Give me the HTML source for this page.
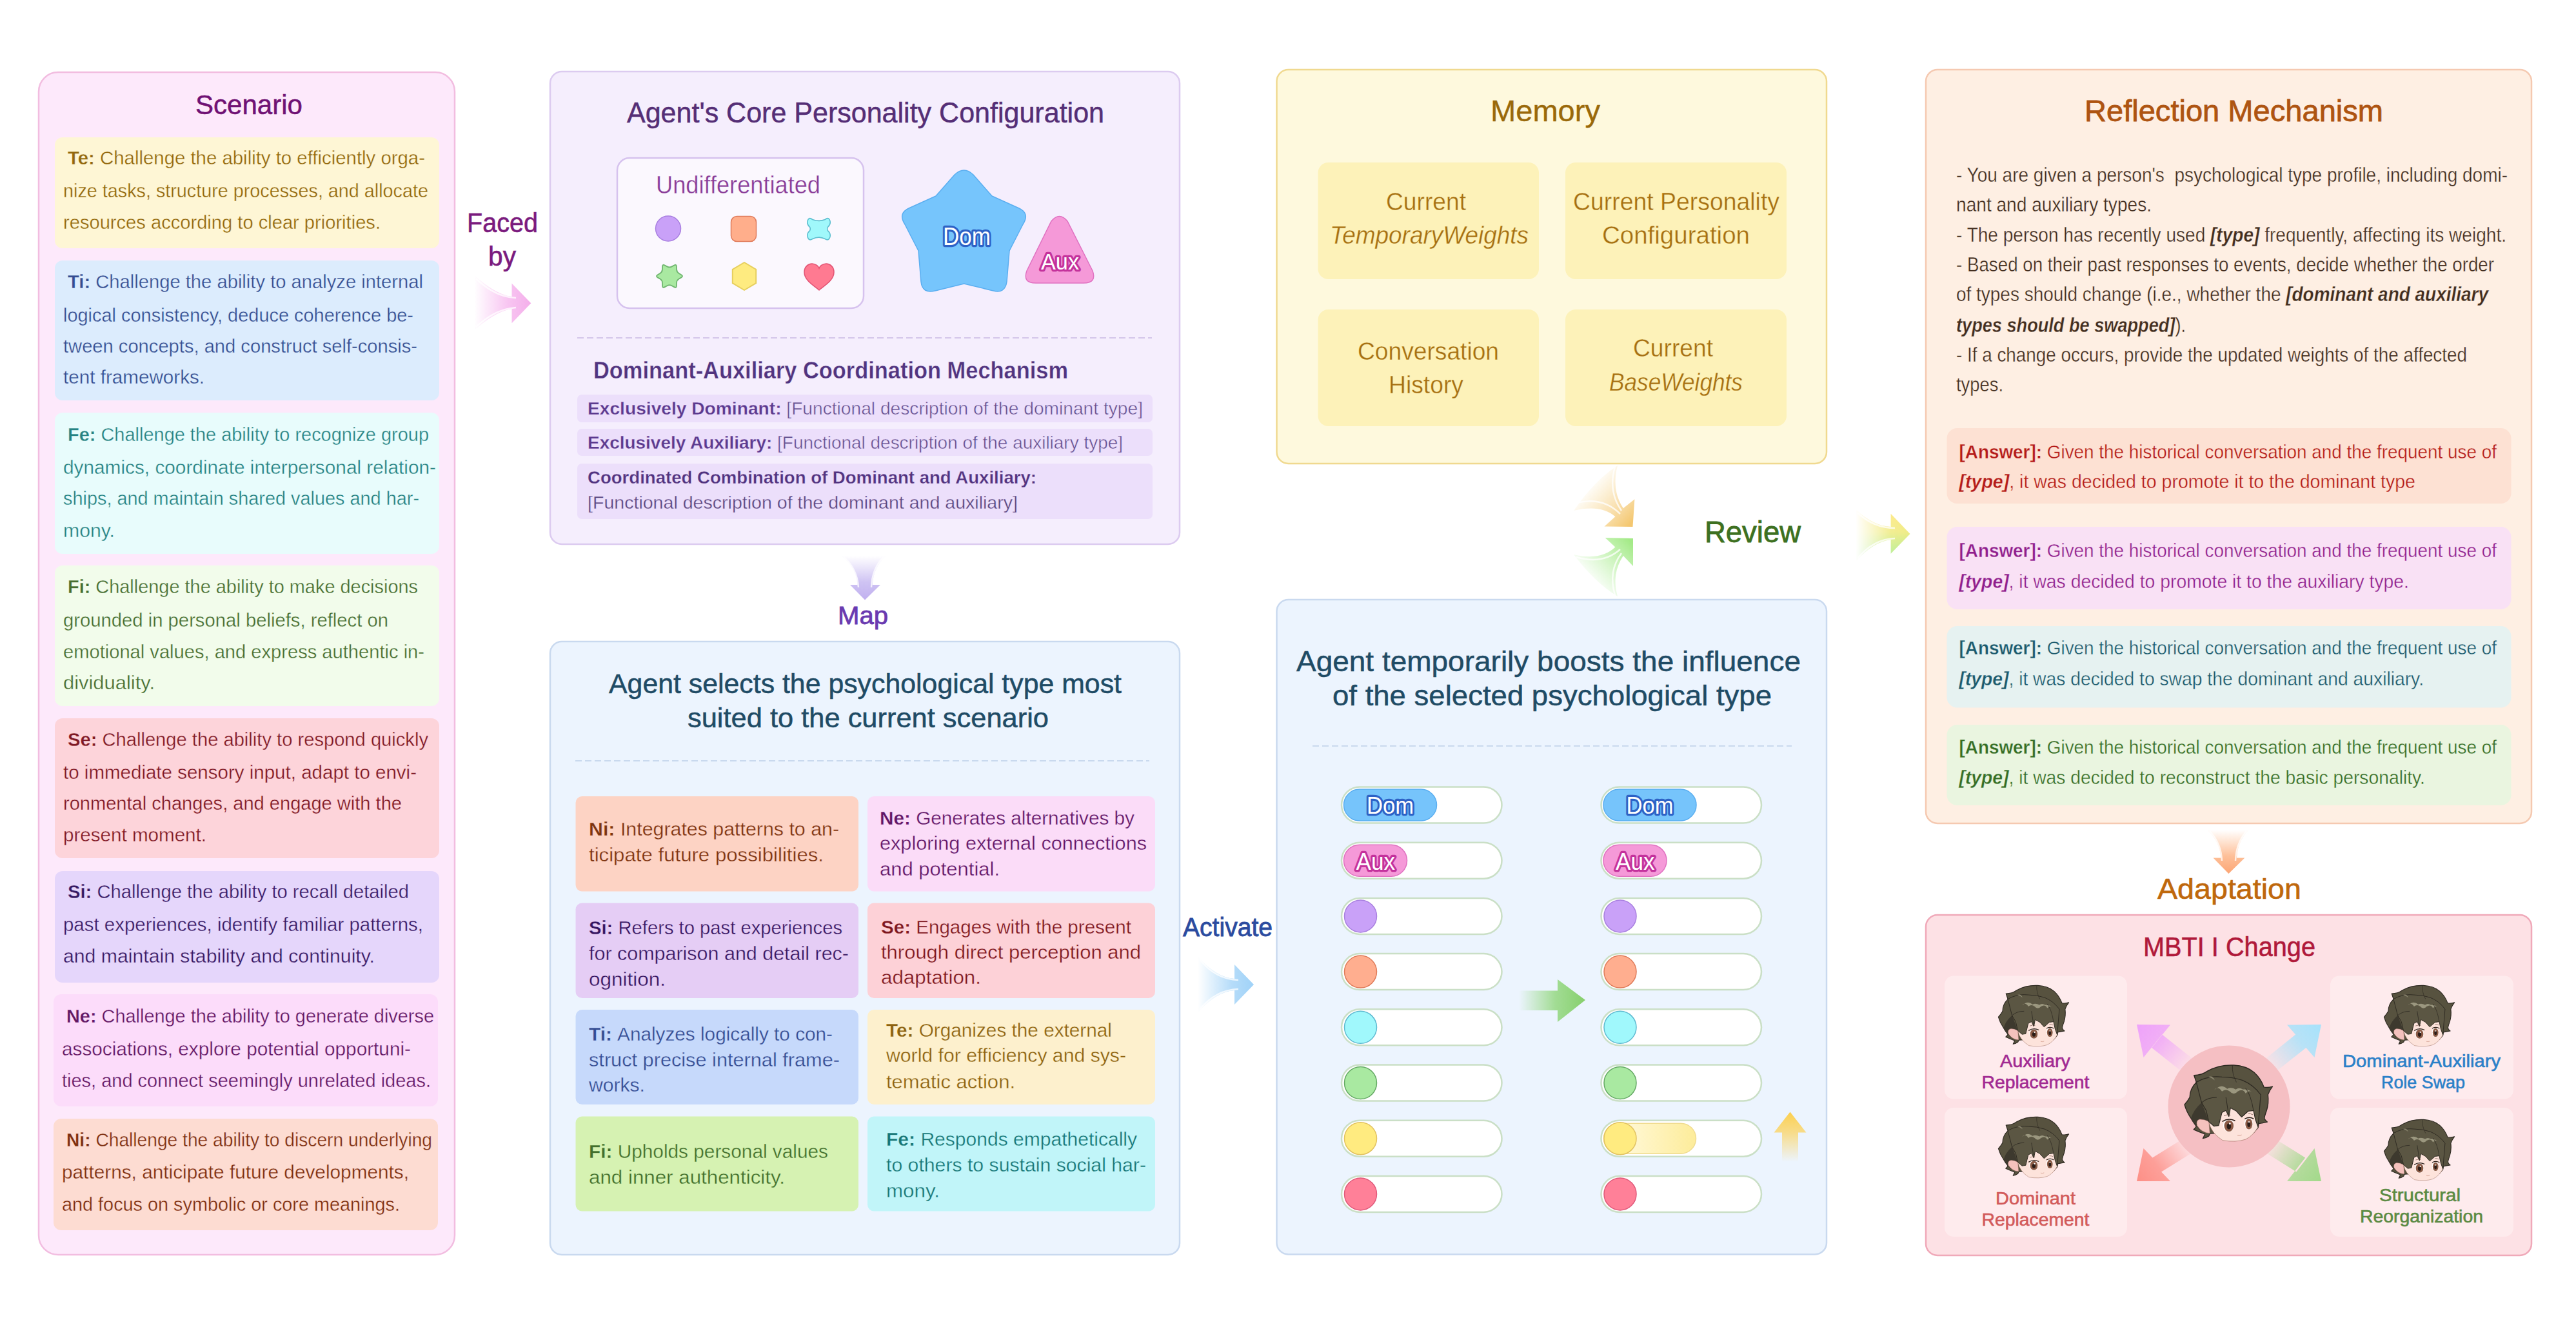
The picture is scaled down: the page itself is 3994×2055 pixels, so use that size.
<!DOCTYPE html>
<html><head><meta charset="utf-8"><title>MBTI Agent Personality Framework</title>
<style>html,body{margin:0;padding:0;background:#fff;overflow:hidden}svg{display:block}text{font-family:"Liberation Sans",sans-serif}</style>
</head><body>
<svg width="3994" height="2055" viewBox="0 0 3994 2055" font-family="'Liberation Sans', sans-serif">
<defs>
<g id="av">
<path d="M70,670 Q125,610 150,560 Q150,430 250,330 Q230,270 215,225 Q330,225 420,160 Q600,60 820,70 Q1010,80 1130,180 Q1230,270 1280,405 Q1350,415 1410,395 Q1365,450 1340,520 Q1355,650 1320,760 Q1290,840 1285,880 Q1300,915 1330,935 Q1260,950 1200,960 L1190,1020 L1120,1100 L600,1100 L460,1110 L440,1150 Q400,1180 350,1185 Q370,1150 380,1120 Q300,1090 210,1050 Q240,1020 250,1000 Q195,930 170,880 Q100,780 70,670 Z" fill="#57523f" stroke="#2e2a22" stroke-width="14" stroke-linejoin="round"/>
<path d="M170,880 Q200,760 330,640 L440,930 L300,1060 Z" fill="#3d392e"/>
<path d="M440,930 Q470,1100 650,1215 Q850,1250 1000,1200 Q1120,1140 1190,1010 L1150,850 L1110,700 L600,700 Z" fill="#fde3db" stroke="#9a6a5a" stroke-width="6"/>
<path d="M455,1105 Q330,1100 262,990 Q240,910 300,895 Q370,890 440,930 Z" fill="#f4c1bd" stroke="#b07a70" stroke-width="5"/>
<path d="M250,330 L330,290 Q480,230 640,250 Q800,250 950,300 Q1120,370 1230,520 L1190,1010 L1150,900 L1120,760 L1040,770 L940,860 L860,770 L770,720 L745,850 L700,760 L640,790 L590,990 L520,1000 L440,930 L400,760 L330,640 Z" fill="#5b5643" stroke="#2e2a22" stroke-width="12" stroke-linejoin="round"/>
<path d="M520,450 Q580,380 640,470 Q700,420 760,470 Q820,540 880,470 Q960,420 1000,500 Q1050,450 1090,470 Q1000,430 960,440 Q900,400 850,440 Q780,400 720,430 Q640,360 560,420 Z" fill="#9b977f"/>
<path d="M430,250 Q500,220 530,300 Q480,260 430,250 Z" fill="#8a8570"/>
<path d="M330,640 Q420,560 560,560" stroke="#2e2a22" stroke-width="10" fill="none"/>
<path d="M700,560 Q720,680 745,850" stroke="#2e2a22" stroke-width="10" fill="none"/>
<path d="M1000,420 Q1080,520 1120,760" stroke="#2e2a22" stroke-width="9" fill="none"/>
<path d="M800,70 Q790,200 860,330" stroke="#2e2a22" stroke-width="8" fill="none"/>
<ellipse cx="742" cy="988" rx="84" ry="98" fill="#ffffff"/>
<ellipse cx="746" cy="994" rx="72" ry="88" fill="#8b5b46"/>
<ellipse cx="746" cy="1002" rx="32" ry="44" fill="#2a1c16"/>
<circle cx="760" cy="960" r="14" fill="#ffffff"/>
<path d="M650,925 Q740,870 835,915" stroke="#2a1c16" stroke-width="16" fill="none" stroke-linecap="round"/>
<ellipse cx="1046" cy="958" rx="64" ry="92" fill="#ffffff"/>
<ellipse cx="1050" cy="966" rx="54" ry="82" fill="#8b5b46"/>
<ellipse cx="1050" cy="972" rx="24" ry="40" fill="#2a1c16"/>
<circle cx="1052" cy="935" r="11" fill="#ffffff"/>
<path d="M990,885 Q1060,850 1120,885" stroke="#2a1c16" stroke-width="14" fill="none" stroke-linecap="round"/>
<path d="M670,840 Q720,815 770,830" stroke="#5a3a30" stroke-width="7" fill="none"/>
<path d="M1040,810 Q1080,805 1110,825" stroke="#5a3a30" stroke-width="7" fill="none"/>
<path d="M875,1135 Q905,1148 940,1132" stroke="#c0806f" stroke-width="7" fill="none"/>
</g>
<linearGradient id="boost" x1="0" x2="1" y1="0" y2="0"><stop offset="0" stop-color="#fffbe8"/><stop offset="0.35" stop-color="#fff6cc"/><stop offset="1" stop-color="#fdec9a"/></linearGradient><linearGradient id="garr" x1="0" x2="1" y1="0" y2="0"><stop offset="0" stop-color="#8fd679" stop-opacity="0"/><stop offset="0.55" stop-color="#8fd679" stop-opacity="0.8"/><stop offset="1" stop-color="#86cf6c"/></linearGradient><linearGradient id="yarr" x1="0" x2="0" y1="1" y2="0"><stop offset="0" stop-color="#fbd35f" stop-opacity="0"/><stop offset="0.6" stop-color="#fbd35f" stop-opacity="0.75"/><stop offset="1" stop-color="#fccf4f"/></linearGradient><linearGradient id="pinkarr" gradientUnits="userSpaceOnUse" x1="735" y1="0" x2="823" y2="0"><stop offset="0" stop-color="#f6b6ee" stop-opacity="0"/><stop offset="0.6" stop-color="#f6b6ee" stop-opacity="0.8"/><stop offset="1" stop-color="#f4aeea"/></linearGradient><linearGradient id="maparr" gradientUnits="userSpaceOnUse" x1="0" y1="862" x2="0" y2="930"><stop offset="0" stop-color="#c9bbf2" stop-opacity="0"/><stop offset="0.6" stop-color="#c6b8f1" stop-opacity="0.85"/><stop offset="1" stop-color="#c0b0ef"/></linearGradient><linearGradient id="actarr" gradientUnits="userSpaceOnUse" x1="1857" y1="0" x2="1944" y2="0"><stop offset="0" stop-color="#a9d6f8" stop-opacity="0"/><stop offset="0.6" stop-color="#a9d6f8" stop-opacity="0.85"/><stop offset="1" stop-color="#9fd2f8"/></linearGradient><linearGradient id="yrev" gradientUnits="userSpaceOnUse" x1="2462" y1="752" x2="2528" y2="812"><stop offset="0" stop-color="#f8d890" stop-opacity="0"/><stop offset="0.5" stop-color="#f6d28a" stop-opacity="0.55"/><stop offset="1" stop-color="#f4c770"/></linearGradient><linearGradient id="grev" gradientUnits="userSpaceOnUse" x1="2462" y1="900" x2="2528" y2="840"><stop offset="0" stop-color="#b5f0a0" stop-opacity="0"/><stop offset="0.5" stop-color="#b0ee98" stop-opacity="0.55"/><stop offset="1" stop-color="#a4ea88"/></linearGradient><linearGradient id="rrev" gradientUnits="userSpaceOnUse" x1="0" y1="797" x2="0" y2="859"><stop offset="0" stop-color="#fde880"/><stop offset="0.45" stop-color="#f0ec88"/><stop offset="1" stop-color="#b8ee90"/></linearGradient><linearGradient id="rrevfade" gradientUnits="userSpaceOnUse" x1="2877" y1="0" x2="2960" y2="0"><stop offset="0" stop-color="#fff" stop-opacity="0"/><stop offset="0.65" stop-color="#fff" stop-opacity="0.9"/><stop offset="1" stop-color="#fff" stop-opacity="1"/></linearGradient><mask id="rrevmask" maskUnits="userSpaceOnUse" x="2860" y="770" width="120" height="120"><rect x="2860" y="770" width="120" height="120" fill="url(#rrevfade)"/></mask><linearGradient id="adarr" gradientUnits="userSpaceOnUse" x1="0" y1="1287" x2="0" y2="1355"><stop offset="0" stop-color="#fdb88a" stop-opacity="0"/><stop offset="0.6" stop-color="#fdb486" stop-opacity="0.85"/><stop offset="1" stop-color="#fca574"/></linearGradient><linearGradient id="dtl" gradientUnits="userSpaceOnUse" x1="3395" y1="1655" x2="3313" y2="1589"><stop offset="0" stop-color="#eea2fa" stop-opacity="0"/><stop offset="0.6" stop-color="#eea2fa" stop-opacity="0.8"/><stop offset="1" stop-color="#eea2fa"/></linearGradient><linearGradient id="dtr" gradientUnits="userSpaceOnUse" x1="3517" y1="1655" x2="3599" y2="1589"><stop offset="0" stop-color="#a6e2fb" stop-opacity="0"/><stop offset="0.6" stop-color="#a6e2fb" stop-opacity="0.8"/><stop offset="1" stop-color="#a6e2fb"/></linearGradient><linearGradient id="dbl" gradientUnits="userSpaceOnUse" x1="3395" y1="1775" x2="3313" y2="1832"><stop offset="0" stop-color="#fd8f86" stop-opacity="0"/><stop offset="0.6" stop-color="#fd8f86" stop-opacity="0.8"/><stop offset="1" stop-color="#fd8f86"/></linearGradient><linearGradient id="dbr" gradientUnits="userSpaceOnUse" x1="3517" y1="1775" x2="3599" y2="1832"><stop offset="0" stop-color="#a2d98a" stop-opacity="0"/><stop offset="0.6" stop-color="#a2d98a" stop-opacity="0.8"/><stop offset="1" stop-color="#a2d98a"/></linearGradient>
</defs>
<rect width="3994" height="2055" fill="#ffffff"/>
<rect x="60" y="112" width="645" height="1834" rx="30" fill="#fde9fb" stroke="#f2bde0" stroke-width="2.5" />
<rect x="853" y="111" width="976" height="733" rx="18" fill="#f5eefd" stroke="#dccbf0" stroke-width="2.5" />
<rect x="853" y="995" width="976" height="951" rx="18" fill="#ecf4fe" stroke="#c9d9ef" stroke-width="2.5" />
<rect x="1979.5" y="108" width="852.5" height="611" rx="18" fill="#fef9dd" stroke="#f0d98f" stroke-width="2.5" />
<rect x="1979.5" y="930" width="852.5" height="1015.5" rx="18" fill="#ecf4fe" stroke="#c9d9ef" stroke-width="2.5" />
<rect x="2986" y="108" width="939" height="1169" rx="18" fill="#feefe3" stroke="#f5c9b1" stroke-width="2.5" />
<rect x="2986" y="1419" width="939" height="528" rx="18" fill="#fde1e5" stroke="#f0a9b9" stroke-width="2.5" />
<text x="303" y="177" font-size="42.5" fill="#701174" font-weight="normal" font-style="normal" stroke="#701174" stroke-width="0.5" textLength="166" lengthAdjust="spacingAndGlyphs"  xml:space="preserve"><tspan>Scenario</tspan></text>
<rect x="85" y="213" width="596" height="172" rx="12" fill="#fef6d5" />
<text x="105" y="255" font-size="30" fill="#92670d" font-weight="normal" font-style="normal" stroke="#fef6d5" stroke-width="0.35" textLength="554" lengthAdjust="spacingAndGlyphs"  xml:space="preserve"><tspan font-weight="bold" stroke-width="0.3">Te: </tspan><tspan>Challenge the ability to efficiently orga-</tspan></text>
<text x="98" y="306" font-size="30" fill="#92670d" font-weight="normal" font-style="normal" stroke="#fef6d5" stroke-width="0.35" textLength="566" lengthAdjust="spacingAndGlyphs"  xml:space="preserve"><tspan>nize tasks, structure processes, and allocate</tspan></text>
<text x="98" y="355" font-size="30" fill="#92670d" font-weight="normal" font-style="normal" stroke="#fef6d5" stroke-width="0.35" textLength="492" lengthAdjust="spacingAndGlyphs"  xml:space="preserve"><tspan>resources according to clear priorities.</tspan></text>
<rect x="85" y="404" width="596" height="217" rx="12" fill="#dcecfd" />
<text x="105" y="447" font-size="30" fill="#364c90" font-weight="normal" font-style="normal" stroke="#dcecfd" stroke-width="0.35" textLength="551" lengthAdjust="spacingAndGlyphs"  xml:space="preserve"><tspan font-weight="bold" stroke-width="0.3">Ti: </tspan><tspan>Challenge the ability to analyze internal</tspan></text>
<text x="98" y="499" font-size="30" fill="#364c90" font-weight="normal" font-style="normal" stroke="#dcecfd" stroke-width="0.35" textLength="543" lengthAdjust="spacingAndGlyphs"  xml:space="preserve"><tspan>logical consistency, deduce coherence be-</tspan></text>
<text x="98" y="547" font-size="30" fill="#364c90" font-weight="normal" font-style="normal" stroke="#dcecfd" stroke-width="0.35" textLength="549" lengthAdjust="spacingAndGlyphs"  xml:space="preserve"><tspan>tween concepts, and construct self-consis-</tspan></text>
<text x="98" y="595" font-size="30" fill="#364c90" font-weight="normal" font-style="normal" stroke="#dcecfd" stroke-width="0.35" textLength="219" lengthAdjust="spacingAndGlyphs"  xml:space="preserve"><tspan>tent frameworks.</tspan></text>
<rect x="85" y="640" width="596" height="219" rx="12" fill="#e8fcfc" />
<text x="105" y="684" font-size="30" fill="#258282" font-weight="normal" font-style="normal" stroke="#e8fcfc" stroke-width="0.35" textLength="560" lengthAdjust="spacingAndGlyphs"  xml:space="preserve"><tspan font-weight="bold" stroke-width="0.3">Fe: </tspan><tspan>Challenge the ability to recognize group</tspan></text>
<text x="98" y="735" font-size="30" fill="#258282" font-weight="normal" font-style="normal" stroke="#e8fcfc" stroke-width="0.35" textLength="578" lengthAdjust="spacingAndGlyphs"  xml:space="preserve"><tspan>dynamics, coordinate interpersonal relation-</tspan></text>
<text x="98" y="783" font-size="30" fill="#258282" font-weight="normal" font-style="normal" stroke="#e8fcfc" stroke-width="0.35" textLength="552" lengthAdjust="spacingAndGlyphs"  xml:space="preserve"><tspan>ships, and maintain shared values and har-</tspan></text>
<text x="98" y="833" font-size="30" fill="#258282" font-weight="normal" font-style="normal" stroke="#e8fcfc" stroke-width="0.35" textLength="80" lengthAdjust="spacingAndGlyphs"  xml:space="preserve"><tspan>mony.</tspan></text>
<rect x="85" y="877" width="596" height="218" rx="12" fill="#f2fceb" />
<text x="105" y="920" font-size="30" fill="#456d2f" font-weight="normal" font-style="normal" stroke="#f2fceb" stroke-width="0.35" textLength="543" lengthAdjust="spacingAndGlyphs"  xml:space="preserve"><tspan font-weight="bold" stroke-width="0.3">Fi: </tspan><tspan>Challenge the ability to make decisions</tspan></text>
<text x="98" y="972" font-size="30" fill="#456d2f" font-weight="normal" font-style="normal" stroke="#f2fceb" stroke-width="0.35" textLength="504" lengthAdjust="spacingAndGlyphs"  xml:space="preserve"><tspan>grounded in personal beliefs, reflect on</tspan></text>
<text x="98" y="1021" font-size="30" fill="#456d2f" font-weight="normal" font-style="normal" stroke="#f2fceb" stroke-width="0.35" textLength="560" lengthAdjust="spacingAndGlyphs"  xml:space="preserve"><tspan>emotional values, and express authentic in-</tspan></text>
<text x="98" y="1069" font-size="30" fill="#456d2f" font-weight="normal" font-style="normal" stroke="#f2fceb" stroke-width="0.35" textLength="142" lengthAdjust="spacingAndGlyphs"  xml:space="preserve"><tspan>dividuality.</tspan></text>
<rect x="85" y="1114" width="596" height="217" rx="12" fill="#fdd4da" />
<text x="105" y="1157" font-size="30" fill="#7e1925" font-weight="normal" font-style="normal" stroke="#fdd4da" stroke-width="0.35" textLength="559" lengthAdjust="spacingAndGlyphs"  xml:space="preserve"><tspan font-weight="bold" stroke-width="0.3">Se: </tspan><tspan>Challenge the ability to respond quickly</tspan></text>
<text x="98" y="1208" font-size="30" fill="#7e1925" font-weight="normal" font-style="normal" stroke="#fdd4da" stroke-width="0.35" textLength="548" lengthAdjust="spacingAndGlyphs"  xml:space="preserve"><tspan>to immediate sensory input, adapt to envi-</tspan></text>
<text x="98" y="1256" font-size="30" fill="#7e1925" font-weight="normal" font-style="normal" stroke="#fdd4da" stroke-width="0.35" textLength="525" lengthAdjust="spacingAndGlyphs"  xml:space="preserve"><tspan>ronmental changes, and engage with the</tspan></text>
<text x="98" y="1305" font-size="30" fill="#7e1925" font-weight="normal" font-style="normal" stroke="#fdd4da" stroke-width="0.35" textLength="222" lengthAdjust="spacingAndGlyphs"  xml:space="preserve"><tspan>present moment.</tspan></text>
<rect x="85" y="1351" width="596" height="173" rx="12" fill="#e5d6fb" />
<text x="105" y="1393" font-size="30" fill="#361b63" font-weight="normal" font-style="normal" stroke="#e5d6fb" stroke-width="0.35" textLength="529" lengthAdjust="spacingAndGlyphs"  xml:space="preserve"><tspan font-weight="bold" stroke-width="0.3">Si: </tspan><tspan>Challenge the ability to recall detailed</tspan></text>
<text x="98" y="1444" font-size="30" fill="#361b63" font-weight="normal" font-style="normal" stroke="#e5d6fb" stroke-width="0.35" textLength="558" lengthAdjust="spacingAndGlyphs"  xml:space="preserve"><tspan>past experiences, identify familiar patterns,</tspan></text>
<text x="98" y="1493" font-size="30" fill="#361b63" font-weight="normal" font-style="normal" stroke="#e5d6fb" stroke-width="0.35" textLength="483" lengthAdjust="spacingAndGlyphs"  xml:space="preserve"><tspan>and maintain stability and continuity.</tspan></text>
<rect x="83" y="1542" width="596" height="174" rx="12" fill="#fcdcfa" />
<text x="103" y="1586" font-size="30" fill="#611863" font-weight="normal" font-style="normal" stroke="#fcdcfa" stroke-width="0.35" textLength="570" lengthAdjust="spacingAndGlyphs"  xml:space="preserve"><tspan font-weight="bold" stroke-width="0.3">Ne: </tspan><tspan>Challenge the ability to generate diverse</tspan></text>
<text x="96" y="1637" font-size="30" fill="#611863" font-weight="normal" font-style="normal" stroke="#fcdcfa" stroke-width="0.35" textLength="541" lengthAdjust="spacingAndGlyphs"  xml:space="preserve"><tspan>associations, explore potential opportuni-</tspan></text>
<text x="96" y="1686" font-size="30" fill="#611863" font-weight="normal" font-style="normal" stroke="#fcdcfa" stroke-width="0.35" textLength="572" lengthAdjust="spacingAndGlyphs"  xml:space="preserve"><tspan>ties, and connect seemingly unrelated ideas.</tspan></text>
<rect x="83" y="1735" width="596" height="173" rx="12" fill="#fddcd2" />
<text x="103" y="1778" font-size="30" fill="#7c2f10" font-weight="normal" font-style="normal" stroke="#fddcd2" stroke-width="0.35" textLength="567" lengthAdjust="spacingAndGlyphs"  xml:space="preserve"><tspan font-weight="bold" stroke-width="0.3">Ni: </tspan><tspan>Challenge the ability to discern underlying</tspan></text>
<text x="96" y="1828" font-size="30" fill="#7c2f10" font-weight="normal" font-style="normal" stroke="#fddcd2" stroke-width="0.35" textLength="538" lengthAdjust="spacingAndGlyphs"  xml:space="preserve"><tspan>patterns, anticipate future developments,</tspan></text>
<text x="96" y="1878" font-size="30" fill="#7c2f10" font-weight="normal" font-style="normal" stroke="#fddcd2" stroke-width="0.35" textLength="524" lengthAdjust="spacingAndGlyphs"  xml:space="preserve"><tspan>and focus on symbolic or core meanings.</tspan></text>
<text x="972" y="189.5" font-size="43.5" fill="#552e76" font-weight="normal" font-style="normal" stroke="#552e76" stroke-width="0.5" textLength="740" lengthAdjust="spacingAndGlyphs"  xml:space="preserve"><tspan>Agent's Core Personality Configuration</tspan></text>
<rect x="957" y="245" width="382" height="233" rx="19" fill="#fbf8fe" stroke="#d6c2ee" stroke-width="2.5" />
<text x="1017" y="300" font-size="38" fill="#883b97" font-weight="normal" font-style="normal" stroke="#fbf8fe" stroke-width="0.35" textLength="255" lengthAdjust="spacingAndGlyphs"  xml:space="preserve"><tspan>Undifferentiated</tspan></text>
<circle cx="1036" cy="354.5" r="19.5" fill="#c9a1f8" stroke="#a87fe0" stroke-width="1.5"/>
<rect x="1133.5" y="335.5" width="39" height="39" rx="9" fill="#ffae8b" stroke="#e07c5c" stroke-width="1.5"/>
<path transform="translate(1269.5,355) scale(0.88,0.97)" d="M-11,-15 Q0,-11 11,-15 Q18,-20 20,-12 Q21,-7 16,-3 Q14,0 16,3 Q21,7 20,12 Q18,20 11,16 Q0,11 -11,16 Q-18,20 -20,12 Q-21,7 -16,3 Q-14,0 -16,-3 Q-21,-7 -20,-12 Q-18,-20 -11,-15 Z" fill="#a0f8fb" stroke="#5fbfd0" stroke-width="1.8"/>
<path d="M1056.63,430.12 L1052.33,432.85 Q1049.26,434.80 1049.11,438.44 L1048.89,443.53 Q1048.75,446.92 1045.74,445.35 L1041.22,442.99 Q1038.00,441.30 1034.78,442.99 L1030.26,445.35 Q1027.25,446.92 1027.11,443.53 L1026.89,438.44 Q1026.74,434.80 1023.67,432.85 L1019.37,430.12 Q1016.50,428.30 1019.37,426.48 L1023.67,423.75 Q1026.74,421.80 1026.89,418.16 L1027.11,413.07 Q1027.25,409.68 1030.26,411.25 L1034.78,413.61 Q1038.00,415.30 1041.22,413.61 L1045.74,411.25 Q1048.75,409.68 1048.89,413.07 L1049.11,418.16 Q1049.26,421.80 1052.33,423.75 L1056.63,426.48 Q1059.50,428.30 1056.63,430.12 Z" fill="#a9e9a1" stroke="#6fb56f" stroke-width="1.8"/>
<polygon points="1154.0,407.0 1172.2,417.8 1172.2,439.2 1154.0,450.0 1135.8,439.2 1135.8,417.8" fill="#feeb80" stroke="#e6cf5e" stroke-width="2" stroke-linejoin="round"/>
<path transform="translate(1270,430)" d="M0,20 C-8,13 -23,5 -23,-8 C-23,-17 -16,-21 -11,-21 C-5,-21 -1,-17 0,-14 C1,-17 5,-21 11,-21 C16,-21 23,-17 23,-8 C23,5 8,13 0,20 Z" fill="#ff7a91" stroke="#e25373" stroke-width="1.5"/>
<path d="M1480,271 Q1494.7,257 1509,271 L1538,304 L1580,323 Q1597,331 1586,348 L1565,389 L1561,437 Q1558,456 1540,451 L1494.7,440 L1450,451 Q1430,456 1428,437 L1424,389 L1403,348 Q1392,331 1409,323 L1451,304 Z" fill="#76c5fc" stroke="#5aaef0" stroke-width="1.5" stroke-linejoin="round"/>
<text x="1462" y="380" font-size="39" fill="#ffffff" font-weight="normal" font-style="normal" textLength="74" lengthAdjust="spacingAndGlyphs" stroke="#2d62c6" stroke-width="6.5" paint-order="stroke" stroke-linejoin="round" xml:space="preserve"><tspan>Dom</tspan></text>
<path d="M1630,343 Q1642.6,328 1655,343 L1694,420 Q1701,439 1680,439 L1606,439 Q1585,439 1592,420 Z" fill="#f599d8" stroke="#e071c1" stroke-width="1.5"/>
<text x="1614" y="418" font-size="35" fill="#ffffff" font-weight="normal" font-style="normal" textLength="59" lengthAdjust="spacingAndGlyphs" stroke="#c4329c" stroke-width="6.5" paint-order="stroke" stroke-linejoin="round" xml:space="preserve"><tspan>Aux</tspan></text>
<line x1="895" y1="524" x2="1786" y2="524" stroke="#d4c6ea" stroke-width="2" stroke-dasharray="10 5"/>
<text x="920" y="587" font-size="36" fill="#51347f" font-weight="bold" font-style="normal" stroke="#f5eefd" stroke-width="0.3" textLength="736" lengthAdjust="spacingAndGlyphs"  xml:space="preserve"><tspan>Dominant-Auxiliary Coordination Mechanism</tspan></text>
<rect x="895" y="612" width="892" height="43" rx="7" fill="#ecdffb" />
<rect x="895" y="665" width="892" height="42" rx="7" fill="#ecdffb" />
<rect x="895" y="719" width="892" height="86" rx="7" fill="#ecdffb" />
<text x="911" y="643" font-size="28.5" textLength="861" lengthAdjust="spacingAndGlyphs" stroke="#ecdffb" stroke-width="0.5"><tspan font-weight="bold" stroke-width="0.3" fill="#5b3a8e">Exclusively Dominant: </tspan><tspan fill="#63518e">[Functional description of the dominant type]</tspan></text>
<text x="911" y="696" font-size="28.5" textLength="830" lengthAdjust="spacingAndGlyphs" stroke="#ecdffb" stroke-width="0.5"><tspan font-weight="bold" stroke-width="0.3" fill="#5b3a8e">Exclusively Auxiliary: </tspan><tspan fill="#63518e">[Functional description of the auxiliary type]</tspan></text>
<text x="911" y="750" font-size="28.5" fill="#51347f" font-weight="bold" font-style="normal" stroke="#ecdffb" stroke-width="0.3" textLength="696" lengthAdjust="spacingAndGlyphs"  xml:space="preserve"><tspan>Coordinated Combination of Dominant and Auxiliary:</tspan></text>
<text x="911" y="789" font-size="28.5" fill="#59487f" font-weight="normal" font-style="normal" stroke="#ecdffb" stroke-width="0.35" textLength="667" lengthAdjust="spacingAndGlyphs"  xml:space="preserve"><tspan>[Functional description of the dominant and auxiliary]</tspan></text>
<text x="1299" y="968" font-size="39" fill="#6a3ab0" font-weight="normal" font-style="normal" stroke="#6a3ab0" stroke-width="0.8" textLength="78" lengthAdjust="spacingAndGlyphs"  xml:space="preserve"><tspan>Map</tspan></text>
<text x="944" y="1075" font-size="42" fill="#1f4b65" font-weight="normal" font-style="normal" stroke="#1f4b65" stroke-width="0.5" textLength="795" lengthAdjust="spacingAndGlyphs"  xml:space="preserve"><tspan>Agent selects the psychological type most</tspan></text>
<text x="1066" y="1128" font-size="42" fill="#1f4b65" font-weight="normal" font-style="normal" stroke="#1f4b65" stroke-width="0.5" textLength="560" lengthAdjust="spacingAndGlyphs"  xml:space="preserve"><tspan>suited to the current scenario</tspan></text>
<line x1="892" y1="1180" x2="1782" y2="1180" stroke="#c9d9ee" stroke-width="2" stroke-dasharray="10 5"/>
<rect x="892.5" y="1235" width="438.5" height="147.5" rx="10" fill="#fdd3c4" />
<text x="913" y="1296" font-size="30" fill="#7c3410" font-weight="normal" font-style="normal" stroke="#fdd3c4" stroke-width="0.35" textLength="388" lengthAdjust="spacingAndGlyphs"  xml:space="preserve"><tspan font-weight="bold" stroke-width="0.3">Ni: </tspan><tspan>Integrates patterns to an-</tspan></text>
<text x="913" y="1336" font-size="30" fill="#7c3410" font-weight="normal" font-style="normal" stroke="#fdd3c4" stroke-width="0.35" textLength="364" lengthAdjust="spacingAndGlyphs"  xml:space="preserve"><tspan>ticipate future possibilities.</tspan></text>
<rect x="1345" y="1235" width="446" height="147.5" rx="10" fill="#fbdcf8" />
<text x="1364" y="1279" font-size="30" fill="#601766" font-weight="normal" font-style="normal" stroke="#fbdcf8" stroke-width="0.35" textLength="395" lengthAdjust="spacingAndGlyphs"  xml:space="preserve"><tspan font-weight="bold" stroke-width="0.3">Ne: </tspan><tspan>Generates alternatives by</tspan></text>
<text x="1364" y="1318" font-size="30" fill="#601766" font-weight="normal" font-style="normal" stroke="#fbdcf8" stroke-width="0.35" textLength="414" lengthAdjust="spacingAndGlyphs"  xml:space="preserve"><tspan>exploring external connections</tspan></text>
<text x="1364" y="1357.5" font-size="30" fill="#601766" font-weight="normal" font-style="normal" stroke="#fbdcf8" stroke-width="0.35" textLength="186" lengthAdjust="spacingAndGlyphs"  xml:space="preserve"><tspan>and potential.</tspan></text>
<rect x="892.5" y="1400.5" width="438.5" height="147.5" rx="10" fill="#e5cdf5" />
<text x="913" y="1449" font-size="30" fill="#351760" font-weight="normal" font-style="normal" stroke="#e5cdf5" stroke-width="0.35" textLength="393" lengthAdjust="spacingAndGlyphs"  xml:space="preserve"><tspan font-weight="bold" stroke-width="0.3">Si: </tspan><tspan>Refers to past experiences</tspan></text>
<text x="913" y="1488.5" font-size="30" fill="#351760" font-weight="normal" font-style="normal" stroke="#e5cdf5" stroke-width="0.35" textLength="403" lengthAdjust="spacingAndGlyphs"  xml:space="preserve"><tspan>for comparison and detail rec-</tspan></text>
<text x="913" y="1529" font-size="30" fill="#351760" font-weight="normal" font-style="normal" stroke="#e5cdf5" stroke-width="0.35" textLength="119" lengthAdjust="spacingAndGlyphs"  xml:space="preserve"><tspan>ognition.</tspan></text>
<rect x="1345" y="1400.5" width="446" height="147.5" rx="10" fill="#fdd1d7" />
<text x="1366" y="1448" font-size="30" fill="#7d1820" font-weight="normal" font-style="normal" stroke="#fdd1d7" stroke-width="0.35" textLength="388" lengthAdjust="spacingAndGlyphs"  xml:space="preserve"><tspan font-weight="bold" stroke-width="0.3">Se: </tspan><tspan>Engages with the present</tspan></text>
<text x="1366" y="1487" font-size="30" fill="#7d1820" font-weight="normal" font-style="normal" stroke="#fdd1d7" stroke-width="0.35" textLength="403" lengthAdjust="spacingAndGlyphs"  xml:space="preserve"><tspan>through direct perception and</tspan></text>
<text x="1366" y="1526" font-size="30" fill="#7d1820" font-weight="normal" font-style="normal" stroke="#fdd1d7" stroke-width="0.35" textLength="155" lengthAdjust="spacingAndGlyphs"  xml:space="preserve"><tspan>adaptation.</tspan></text>
<rect x="892.5" y="1566" width="438.5" height="147" rx="10" fill="#c6d9fb" />
<text x="913" y="1614" font-size="30" fill="#354d91" font-weight="normal" font-style="normal" stroke="#c6d9fb" stroke-width="0.35" textLength="378" lengthAdjust="spacingAndGlyphs"  xml:space="preserve"><tspan font-weight="bold" stroke-width="0.3">Ti: </tspan><tspan>Analyzes logically to con-</tspan></text>
<text x="913" y="1653.5" font-size="30" fill="#354d91" font-weight="normal" font-style="normal" stroke="#c6d9fb" stroke-width="0.35" textLength="389" lengthAdjust="spacingAndGlyphs"  xml:space="preserve"><tspan>struct precise internal frame-</tspan></text>
<text x="913" y="1693" font-size="30" fill="#354d91" font-weight="normal" font-style="normal" stroke="#c6d9fb" stroke-width="0.35" textLength="87" lengthAdjust="spacingAndGlyphs"  xml:space="preserve"><tspan>works.</tspan></text>
<rect x="1345" y="1566" width="446" height="147" rx="10" fill="#fdf0cd" />
<text x="1374" y="1608" font-size="30" fill="#8c6110" font-weight="normal" font-style="normal" stroke="#fdf0cd" stroke-width="0.35" textLength="350" lengthAdjust="spacingAndGlyphs"  xml:space="preserve"><tspan font-weight="bold" stroke-width="0.3">Te: </tspan><tspan>Organizes the external</tspan></text>
<text x="1374" y="1647" font-size="30" fill="#8c6110" font-weight="normal" font-style="normal" stroke="#fdf0cd" stroke-width="0.35" textLength="372" lengthAdjust="spacingAndGlyphs"  xml:space="preserve"><tspan>world for efficiency and sys-</tspan></text>
<text x="1374" y="1687.5" font-size="30" fill="#8c6110" font-weight="normal" font-style="normal" stroke="#fdf0cd" stroke-width="0.35" textLength="200" lengthAdjust="spacingAndGlyphs"  xml:space="preserve"><tspan>tematic action.</tspan></text>
<rect x="892.5" y="1731.5" width="438.5" height="147.0" rx="10" fill="#d6f2b2" />
<text x="913" y="1796" font-size="30" fill="#436e2d" font-weight="normal" font-style="normal" stroke="#d6f2b2" stroke-width="0.35" textLength="371" lengthAdjust="spacingAndGlyphs"  xml:space="preserve"><tspan font-weight="bold" stroke-width="0.3">Fi: </tspan><tspan>Upholds personal values</tspan></text>
<text x="913" y="1836" font-size="30" fill="#436e2d" font-weight="normal" font-style="normal" stroke="#d6f2b2" stroke-width="0.35" textLength="304" lengthAdjust="spacingAndGlyphs"  xml:space="preserve"><tspan>and inner authenticity.</tspan></text>
<rect x="1345" y="1731.5" width="446" height="147.0" rx="10" fill="#c1f5f9" />
<text x="1374" y="1777" font-size="30" fill="#187575" font-weight="normal" font-style="normal" stroke="#c1f5f9" stroke-width="0.35" textLength="389" lengthAdjust="spacingAndGlyphs"  xml:space="preserve"><tspan font-weight="bold" stroke-width="0.3">Fe: </tspan><tspan>Responds empathetically</tspan></text>
<text x="1374" y="1817" font-size="30" fill="#187575" font-weight="normal" font-style="normal" stroke="#c1f5f9" stroke-width="0.35" textLength="403" lengthAdjust="spacingAndGlyphs"  xml:space="preserve"><tspan>to others to sustain social har-</tspan></text>
<text x="1374" y="1857" font-size="30" fill="#187575" font-weight="normal" font-style="normal" stroke="#c1f5f9" stroke-width="0.35" textLength="83" lengthAdjust="spacingAndGlyphs"  xml:space="preserve"><tspan>mony.</tspan></text>
<text x="2311" y="187.5" font-size="46" fill="#9a6909" font-weight="normal" font-style="normal" stroke="#9a6909" stroke-width="0.4" textLength="170" lengthAdjust="spacingAndGlyphs"  xml:space="preserve"><tspan>Memory</tspan></text>
<rect x="2043.5" y="252" width="342.5" height="181" rx="16" fill="#fdf2b9" />
<rect x="2043.5" y="480" width="342.5" height="181" rx="16" fill="#fdf2b9" />
<rect x="2427" y="252" width="343" height="181" rx="16" fill="#fdf2b9" />
<rect x="2427" y="480" width="343" height="181" rx="16" fill="#fdf2b9" />
<text x="2149" y="326" font-size="38" fill="#a66f12" font-weight="normal" font-style="normal" stroke="#fdf2b9" stroke-width="0.35" textLength="124" lengthAdjust="spacingAndGlyphs"  xml:space="preserve"><tspan>Current</tspan></text>
<text x="2062" y="378" font-size="38" fill="#a66f12" font-weight="normal" font-style="italic" stroke="#fdf2b9" stroke-width="0.35" textLength="308" lengthAdjust="spacingAndGlyphs"  xml:space="preserve"><tspan>TemporaryWeights</tspan></text>
<text x="2439" y="326" font-size="38" fill="#a66f12" font-weight="normal" font-style="normal" stroke="#fdf2b9" stroke-width="0.35" textLength="320" lengthAdjust="spacingAndGlyphs"  xml:space="preserve"><tspan>Current Personality</tspan></text>
<text x="2484" y="378" font-size="38" fill="#a66f12" font-weight="normal" font-style="normal" stroke="#fdf2b9" stroke-width="0.35" textLength="229" lengthAdjust="spacingAndGlyphs"  xml:space="preserve"><tspan>Configuration</tspan></text>
<text x="2105" y="557.5" font-size="38" fill="#a66f12" font-weight="normal" font-style="normal" stroke="#fdf2b9" stroke-width="0.35" textLength="219" lengthAdjust="spacingAndGlyphs"  xml:space="preserve"><tspan>Conversation</tspan></text>
<text x="2153" y="610" font-size="38" fill="#a66f12" font-weight="normal" font-style="normal" stroke="#fdf2b9" stroke-width="0.35" textLength="116" lengthAdjust="spacingAndGlyphs"  xml:space="preserve"><tspan>History</tspan></text>
<text x="2532" y="553" font-size="38" fill="#a66f12" font-weight="normal" font-style="normal" stroke="#fdf2b9" stroke-width="0.35" textLength="124" lengthAdjust="spacingAndGlyphs"  xml:space="preserve"><tspan>Current</tspan></text>
<text x="2495" y="606" font-size="38" fill="#a66f12" font-weight="normal" font-style="italic" stroke="#fdf2b9" stroke-width="0.35" textLength="207" lengthAdjust="spacingAndGlyphs"  xml:space="preserve"><tspan>BaseWeights</tspan></text>
<text x="2643" y="841" font-size="45.5" fill="#3d7021" font-weight="normal" font-style="normal" stroke="#3d7021" stroke-width="0.8" textLength="149" lengthAdjust="spacingAndGlyphs"  xml:space="preserve"><tspan>Review</tspan></text>
<text x="2010" y="1041" font-size="44.5" fill="#1f4b65" font-weight="normal" font-style="normal" stroke="#1f4b65" stroke-width="0.5" textLength="782" lengthAdjust="spacingAndGlyphs"  xml:space="preserve"><tspan>Agent temporarily boosts the influence</tspan></text>
<text x="2066" y="1094" font-size="44.5" fill="#1f4b65" font-weight="normal" font-style="normal" stroke="#1f4b65" stroke-width="0.5" textLength="681" lengthAdjust="spacingAndGlyphs"  xml:space="preserve"><tspan>of the selected psychological type</tspan></text>
<line x1="2035" y1="1157" x2="2778" y2="1157" stroke="#c9d9ee" stroke-width="2" stroke-dasharray="10 5"/>
<rect x="2080" y="1220.5" width="248.5" height="56" rx="28" fill="#ffffff" stroke="#cadfc6" stroke-width="2.5" />
<rect x="2083.5" y="1224.0" width="144" height="49" rx="24.5" fill="#76c4fb" stroke="#5aaef0" stroke-width="1.5" />
<text x="2119" y="1262.0" font-size="37" fill="#ffffff" font-weight="normal" font-style="normal" textLength="73" lengthAdjust="spacingAndGlyphs" stroke="#2d62c6" stroke-width="6.5" paint-order="stroke" stroke-linejoin="round" xml:space="preserve"><tspan>Dom</tspan></text>
<rect x="2080" y="1306.7" width="248.5" height="56" rx="28" fill="#ffffff" stroke="#cadfc6" stroke-width="2.5" />
<rect x="2083.5" y="1310.2" width="98" height="49" rx="24.5" fill="#f599d8" stroke="#e071c1" stroke-width="1.5" />
<text x="2102.5" y="1348.7" font-size="37" fill="#ffffff" font-weight="normal" font-style="normal" textLength="60.5" lengthAdjust="spacingAndGlyphs" stroke="#c4329c" stroke-width="6.5" paint-order="stroke" stroke-linejoin="round" xml:space="preserve"><tspan>Aux</tspan></text>
<rect x="2080" y="1392.9" width="248.5" height="56" rx="28" fill="#ffffff" stroke="#cadfc6" stroke-width="2.5" />
<circle cx="2109.5" cy="1420.9" r="25" fill="#c9a1f8" stroke="#a87fe0" stroke-width="1.5"/>
<rect x="2080" y="1479.1" width="248.5" height="56" rx="28" fill="#ffffff" stroke="#cadfc6" stroke-width="2.5" />
<circle cx="2109.5" cy="1507.1" r="25" fill="#ffae8f" stroke="#df7a58" stroke-width="1.5"/>
<rect x="2080" y="1565.3" width="248.5" height="56" rx="28" fill="#ffffff" stroke="#cadfc6" stroke-width="2.5" />
<circle cx="2109.5" cy="1593.3" r="25" fill="#a0f8fc" stroke="#5cb9d0" stroke-width="1.5"/>
<rect x="2080" y="1651.5" width="248.5" height="56" rx="28" fill="#ffffff" stroke="#cadfc6" stroke-width="2.5" />
<circle cx="2109.5" cy="1679.5" r="25" fill="#a9e9a1" stroke="#63a863" stroke-width="1.5"/>
<rect x="2080" y="1737.7" width="248.5" height="56" rx="28" fill="#ffffff" stroke="#cadfc6" stroke-width="2.5" />
<circle cx="2109.5" cy="1765.7" r="25" fill="#ffeb80" stroke="#e2c260" stroke-width="1.5"/>
<rect x="2080" y="1823.9" width="248.5" height="56" rx="28" fill="#ffffff" stroke="#cadfc6" stroke-width="2.5" />
<circle cx="2109.5" cy="1851.9" r="25" fill="#ff8098" stroke="#e0587a" stroke-width="1.5"/>
<rect x="2482.5" y="1220.5" width="248.5" height="56" rx="28" fill="#ffffff" stroke="#cadfc6" stroke-width="2.5" />
<rect x="2486.0" y="1224.0" width="144" height="49" rx="24.5" fill="#76c4fb" stroke="#5aaef0" stroke-width="1.5" />
<text x="2521.5" y="1262.0" font-size="37" fill="#ffffff" font-weight="normal" font-style="normal" textLength="73.0" lengthAdjust="spacingAndGlyphs" stroke="#2d62c6" stroke-width="6.5" paint-order="stroke" stroke-linejoin="round" xml:space="preserve"><tspan>Dom</tspan></text>
<rect x="2482.5" y="1306.7" width="248.5" height="56" rx="28" fill="#ffffff" stroke="#cadfc6" stroke-width="2.5" />
<rect x="2486.0" y="1310.2" width="98" height="49" rx="24.5" fill="#f599d8" stroke="#e071c1" stroke-width="1.5" />
<text x="2505.0" y="1348.7" font-size="37" fill="#ffffff" font-weight="normal" font-style="normal" textLength="60.5" lengthAdjust="spacingAndGlyphs" stroke="#c4329c" stroke-width="6.5" paint-order="stroke" stroke-linejoin="round" xml:space="preserve"><tspan>Aux</tspan></text>
<rect x="2482.5" y="1392.9" width="248.5" height="56" rx="28" fill="#ffffff" stroke="#cadfc6" stroke-width="2.5" />
<circle cx="2512.0" cy="1420.9" r="25" fill="#c9a1f8" stroke="#a87fe0" stroke-width="1.5"/>
<rect x="2482.5" y="1479.1" width="248.5" height="56" rx="28" fill="#ffffff" stroke="#cadfc6" stroke-width="2.5" />
<circle cx="2512.0" cy="1507.1" r="25" fill="#ffae8f" stroke="#df7a58" stroke-width="1.5"/>
<rect x="2482.5" y="1565.3" width="248.5" height="56" rx="28" fill="#ffffff" stroke="#cadfc6" stroke-width="2.5" />
<circle cx="2512.0" cy="1593.3" r="25" fill="#a0f8fc" stroke="#5cb9d0" stroke-width="1.5"/>
<rect x="2482.5" y="1651.5" width="248.5" height="56" rx="28" fill="#ffffff" stroke="#cadfc6" stroke-width="2.5" />
<circle cx="2512.0" cy="1679.5" r="25" fill="#a9e9a1" stroke="#63a863" stroke-width="1.5"/>
<rect x="2482.5" y="1737.7" width="248.5" height="56" rx="28" fill="#ffffff" stroke="#cadfc6" stroke-width="2.5" />
<rect x="2486.5" y="1742.2" width="143" height="47" rx="23.5" fill="url(#boost)" stroke="#f0dc90" stroke-width="1.5" />
<circle cx="2512.0" cy="1765.7" r="25" fill="#ffeb80" stroke="#e2c260" stroke-width="1.5"/>
<rect x="2482.5" y="1823.9" width="248.5" height="56" rx="28" fill="#ffffff" stroke="#cadfc6" stroke-width="2.5" />
<circle cx="2512.0" cy="1851.9" r="25" fill="#ff8098" stroke="#e0587a" stroke-width="1.5"/>
<path d="M2355,1536.5 L2415,1536.5 L2415,1519 L2458,1551 L2415,1585 L2415,1567 L2355,1567 Z" fill="url(#garr)"/>
<path d="M2763,1802 L2763,1756.5 L2750.5,1756.5 L2775.5,1724.5 L2800.5,1756.5 L2788,1756.5 L2788,1802 Z" fill="url(#yarr)"/>
<text x="1834" y="1452" font-size="41" fill="#2b4b9f" font-weight="normal" font-style="normal" stroke="#2b4b9f" stroke-width="0.8" textLength="139" lengthAdjust="spacingAndGlyphs"  xml:space="preserve"><tspan>Activate</tspan></text>
<text x="3232" y="187.5" font-size="47" fill="#ae5411" font-weight="normal" font-style="normal" stroke="#ae5411" stroke-width="0.8" textLength="463" lengthAdjust="spacingAndGlyphs"  xml:space="preserve"><tspan>Reflection Mechanism</tspan></text>
<text x="3033" y="282" font-size="30.5" fill="#422d1e" font-weight="normal" font-style="normal" stroke="#feefe3" stroke-width="0.35" textLength="855" lengthAdjust="spacingAndGlyphs"  xml:space="preserve"><tspan>- You are given a person's  psychological type profile, including domi-</tspan></text>
<text x="3033" y="328" font-size="30.5" fill="#422d1e" font-weight="normal" font-style="normal" stroke="#feefe3" stroke-width="0.35" textLength="303" lengthAdjust="spacingAndGlyphs"  xml:space="preserve"><tspan>nant and auxiliary types.</tspan></text>
<text x="3033" y="375" font-size="30.5" fill="#422d1e" font-weight="normal" font-style="normal" stroke="#feefe3" stroke-width="0.35" textLength="853" lengthAdjust="spacingAndGlyphs"  xml:space="preserve"><tspan>- The person has recently used </tspan><tspan font-weight="bold" stroke-width="0.3" font-style="italic">[type]</tspan><tspan> frequently, affecting its weight.</tspan></text>
<text x="3033" y="421" font-size="30.5" fill="#422d1e" font-weight="normal" font-style="normal" stroke="#feefe3" stroke-width="0.35" textLength="834" lengthAdjust="spacingAndGlyphs"  xml:space="preserve"><tspan>- Based on their past responses to events, decide whether the order</tspan></text>
<text x="3033" y="467" font-size="30.5" fill="#422d1e" font-weight="normal" font-style="normal" stroke="#feefe3" stroke-width="0.35" textLength="825" lengthAdjust="spacingAndGlyphs"  xml:space="preserve"><tspan>of types should change (i.e., whether the </tspan><tspan font-weight="bold" stroke-width="0.3" font-style="italic">[dominant and auxiliary</tspan></text>
<text x="3033" y="514.5" font-size="30.5" fill="#422d1e" font-weight="normal" font-style="normal" stroke="#feefe3" stroke-width="0.35" textLength="356" lengthAdjust="spacingAndGlyphs"  xml:space="preserve"><tspan font-weight="bold" stroke-width="0.3" font-style="italic">types should be swapped]</tspan><tspan>).</tspan></text>
<text x="3033" y="561" font-size="30.5" fill="#422d1e" font-weight="normal" font-style="normal" stroke="#feefe3" stroke-width="0.35" textLength="792" lengthAdjust="spacingAndGlyphs"  xml:space="preserve"><tspan>- If a change occurs, provide the updated weights of the affected</tspan></text>
<text x="3033" y="607" font-size="30.5" fill="#422d1e" font-weight="normal" font-style="normal" stroke="#feefe3" stroke-width="0.35" textLength="73" lengthAdjust="spacingAndGlyphs"  xml:space="preserve"><tspan>types.</tspan></text>
<rect x="3018.5" y="664" width="875.0" height="117" rx="16" fill="#fde1d3" />
<text x="3037.5" y="711" font-size="28.8" fill="#b41a1a" font-weight="normal" font-style="normal" stroke="#fde1d3" stroke-width="0.35" textLength="833.5" lengthAdjust="spacingAndGlyphs"  xml:space="preserve"><tspan font-weight="bold" stroke-width="0.3">[Answer]:</tspan><tspan> Given the historical conversation and the frequent use of</tspan></text>
<text x="3037.5" y="757" font-size="28.8" fill="#b41a1a" font-weight="normal" font-style="normal" stroke="#fde1d3" stroke-width="0.35" textLength="707.5" lengthAdjust="spacingAndGlyphs"  xml:space="preserve"><tspan font-weight="bold" stroke-width="0.3" font-style="italic">[type]</tspan><tspan>, it was decided to promote it to the dominant type</tspan></text>
<rect x="3018.5" y="817" width="875.0" height="128" rx="16" fill="#f9e1f5" />
<text x="3037.5" y="864" font-size="28.8" fill="#901e8c" font-weight="normal" font-style="normal" stroke="#f9e1f5" stroke-width="0.35" textLength="833.5" lengthAdjust="spacingAndGlyphs"  xml:space="preserve"><tspan font-weight="bold" stroke-width="0.3">[Answer]:</tspan><tspan> Given the historical conversation and the frequent use of</tspan></text>
<text x="3037.5" y="912" font-size="28.8" fill="#901e8c" font-weight="normal" font-style="normal" stroke="#f9e1f5" stroke-width="0.35" textLength="697.5" lengthAdjust="spacingAndGlyphs"  xml:space="preserve"><tspan font-weight="bold" stroke-width="0.3" font-style="italic">[type]</tspan><tspan>, it was decided to promote it to the auxiliary type.</tspan></text>
<rect x="3018.5" y="971" width="875.0" height="126.5" rx="16" fill="#e6f2f1" />
<text x="3037.5" y="1015" font-size="28.8" fill="#1b5a6c" font-weight="normal" font-style="normal" stroke="#e6f2f1" stroke-width="0.35" textLength="833.5" lengthAdjust="spacingAndGlyphs"  xml:space="preserve"><tspan font-weight="bold" stroke-width="0.3">[Answer]:</tspan><tspan> Given the historical conversation and the frequent use of</tspan></text>
<text x="3037.5" y="1063" font-size="28.8" fill="#1b5a6c" font-weight="normal" font-style="normal" stroke="#e6f2f1" stroke-width="0.35" textLength="720.5" lengthAdjust="spacingAndGlyphs"  xml:space="preserve"><tspan font-weight="bold" stroke-width="0.3" font-style="italic">[type]</tspan><tspan>, it was decided to swap the dominant and auxiliary.</tspan></text>
<rect x="3018.5" y="1124" width="875.0" height="125" rx="16" fill="#eaf5e0" />
<text x="3037.5" y="1169" font-size="28.8" fill="#356d24" font-weight="normal" font-style="normal" stroke="#eaf5e0" stroke-width="0.35" textLength="833.5" lengthAdjust="spacingAndGlyphs"  xml:space="preserve"><tspan font-weight="bold" stroke-width="0.3">[Answer]:</tspan><tspan> Given the historical conversation and the frequent use of</tspan></text>
<text x="3037.5" y="1216" font-size="28.8" fill="#356d24" font-weight="normal" font-style="normal" stroke="#eaf5e0" stroke-width="0.35" textLength="722.5" lengthAdjust="spacingAndGlyphs"  xml:space="preserve"><tspan font-weight="bold" stroke-width="0.3" font-style="italic">[type]</tspan><tspan>, it was decided to reconstruct the basic personality.</tspan></text>
<text x="724" y="360" font-size="43" fill="#7b1b7e" font-weight="normal" font-style="normal" stroke="#7b1b7e" stroke-width="0.6" textLength="110" lengthAdjust="spacingAndGlyphs"  xml:space="preserve"><tspan>Faced</tspan></text>
<text x="757" y="412" font-size="43" fill="#7b1b7e" font-weight="normal" font-style="normal" stroke="#7b1b7e" stroke-width="0.6" textLength="43" lengthAdjust="spacingAndGlyphs"  xml:space="preserve"><tspan>by</tspan></text>
<path d="M735.5,427 Q770,458 793.5,460 L793.5,439.5 L823.3,470.2 L793.5,501.3 L793.5,479 Q770,482 735.5,512 Z" fill="url(#pinkarr)"/>
<path d="M738,432 Q768,461 800,462" stroke="#ffffff" stroke-width="2.5" fill="none" stroke-opacity="0.75"/>
<path d="M738,507 Q768,479 800,477" stroke="#ffffff" stroke-width="2.5" fill="none" stroke-opacity="0.75"/>
<path d="M1304,862 Q1328,880 1329.5,907 L1318,907 L1341,930.4 L1365,907 L1352.7,907 Q1354,880 1374,862 Z" fill="url(#maparr)"/>
<path d="M1308,864 Q1329,882 1331,911" stroke="#ffffff" stroke-width="2.5" fill="none" stroke-opacity="0.75"/>
<path d="M1370,864 Q1352,882 1351,911" stroke="#ffffff" stroke-width="2.5" fill="none" stroke-opacity="0.75"/>
<path d="M1857,1483 Q1885,1516 1914,1518 L1914,1496 L1944,1527 L1914,1558 L1914,1536 Q1885,1538 1857,1571 Z" fill="url(#actarr)"/>
<path d="M1860,1488 Q1885,1519 1920,1520" stroke="#ffffff" stroke-width="2.5" fill="none" stroke-opacity="0.75"/>
<path d="M1860,1566 Q1885,1535 1920,1534" stroke="#ffffff" stroke-width="2.5" fill="none" stroke-opacity="0.75"/>
<path d="M2504.4,801.3 L2487.5,816.6 L2531.5,817 L2534.4,774.3 L2516.8,788.3 Q2498,760 2508,722 Q2472,745 2440,792 Q2482,782 2504.4,801.3 Z" fill="url(#yrev)"/>
<path d="M2444,780 Q2485,770 2512,797" stroke="#ffffff" stroke-width="2.5" fill="none" stroke-opacity="0.75"/>
<path d="M2504,724 Q2493,762 2514,792" stroke="#ffffff" stroke-width="2.5" fill="none" stroke-opacity="0.75"/>
<path d="M2504.4,848.6 L2488.7,834 L2532,835 L2532,877.9 L2516.8,862 Q2498,890 2508,925 Q2472,903 2440,860 Q2482,870 2504.4,848.6 Z" fill="url(#grev)"/>
<path d="M2444,864 Q2485,876 2512,852" stroke="#ffffff" stroke-width="2.5" fill="none" stroke-opacity="0.75"/>
<path d="M2504,923 Q2493,886 2514,858" stroke="#ffffff" stroke-width="2.5" fill="none" stroke-opacity="0.75"/>
<path d="M2877,790 Q2905,816 2931.6,817 L2931.6,796.8 L2961.5,827.9 L2931.6,858.7 L2931.6,837 Q2905,840 2877,871 Z" fill="url(#rrev)" mask="url(#rrevmask)"/>
<path d="M2880,795 Q2905,819 2938,819" stroke="#ffffff" stroke-width="2.5" fill="none" stroke-opacity="0.75"/>
<path d="M2880,866 Q2905,836 2938,835" stroke="#ffffff" stroke-width="2.5" fill="none" stroke-opacity="0.75"/>
<path d="M3421.7,1287 Q3442,1305 3443.5,1330.6 L3431.5,1330.6 L3455.4,1355 L3480.4,1330.6 L3468,1330.6 Q3469,1305 3487,1287 Z" fill="url(#adarr)"/>
<path d="M3426,1289 Q3444,1308 3445,1335" stroke="#ffffff" stroke-width="2.5" fill="none" stroke-opacity="0.75"/>
<path d="M3483,1289 Q3467,1308 3466,1335" stroke="#ffffff" stroke-width="2.5" fill="none" stroke-opacity="0.75"/>
<path d="M3313,1589 L3365,1589.5 L3336.2,1624.9 L3386.9,1665.2 L3403.1,1644.8 L3352.3,1604.6 L3323.5,1640 Z" fill="url(#dtl)"/>
<path d="M3599,1589 L3546,1589.5 L3559.1,1604.6 L3508.9,1644.9 L3525.1,1665.1 L3575.4,1624.9 L3588.5,1640 Z" fill="url(#dtr)"/>
<path d="M3313,1832 L3365,1832 L3351.1,1817.5 L3401.9,1786.0 L3388.1,1764.0 L3337.4,1795.5 L3323.5,1781 Z" fill="url(#dbl)"/>
<path d="M3599,1832 L3546,1832 L3574.2,1795.5 L3523.9,1764.0 L3510.1,1786.0 L3560.3,1817.5 L3588.5,1781 Z" fill="url(#dbr)"/>
<text x="3345" y="1393.5" font-size="44.5" fill="#bf680c" font-weight="normal" font-style="normal" stroke="#bf680c" stroke-width="0.6" textLength="223" lengthAdjust="spacingAndGlyphs"  xml:space="preserve"><tspan>Adaptation</tspan></text>
<text x="3323" y="1482.5" font-size="43" fill="#b0193a" font-weight="normal" font-style="normal" stroke="#b0193a" stroke-width="0.6" textLength="267" lengthAdjust="spacingAndGlyphs"  xml:space="preserve"><tspan>MBTI I Change</tspan></text>
<rect x="3015" y="1513.5" width="283" height="191.0" rx="14" fill="#feebed" />
<rect x="3015" y="1718" width="283" height="200" rx="14" fill="#feebed" />
<rect x="3613" y="1513.5" width="284" height="191.0" rx="14" fill="#feebed" />
<rect x="3613" y="1718" width="284" height="200" rx="14" fill="#feebed" />
<text x="3101" y="1655" font-size="28.5" fill="#a22a92" font-weight="normal" font-style="normal" stroke="#a22a92" stroke-width="0.6" textLength="109" lengthAdjust="spacingAndGlyphs"  xml:space="preserve"><tspan>Auxiliary</tspan></text>
<text x="3072.5" y="1688" font-size="28.5" fill="#a22a92" font-weight="normal" font-style="normal" stroke="#a22a92" stroke-width="0.6" textLength="167.0" lengthAdjust="spacingAndGlyphs"  xml:space="preserve"><tspan>Replacement</tspan></text>
<text x="3094" y="1867.5" font-size="28.5" fill="#d25a5a" font-weight="normal" font-style="normal" stroke="#d25a5a" stroke-width="0.6" textLength="124" lengthAdjust="spacingAndGlyphs"  xml:space="preserve"><tspan>Dominant</tspan></text>
<text x="3072.5" y="1901" font-size="28.5" fill="#d25a5a" font-weight="normal" font-style="normal" stroke="#d25a5a" stroke-width="0.6" textLength="167.0" lengthAdjust="spacingAndGlyphs"  xml:space="preserve"><tspan>Replacement</tspan></text>
<text x="3632" y="1655" font-size="28.5" fill="#2a80c8" font-weight="normal" font-style="normal" stroke="#2a80c8" stroke-width="0.6" textLength="245" lengthAdjust="spacingAndGlyphs"  xml:space="preserve"><tspan>Dominant-Auxiliary</tspan></text>
<text x="3692" y="1688" font-size="28.5" fill="#2a80c8" font-weight="normal" font-style="normal" stroke="#2a80c8" stroke-width="0.6" textLength="130" lengthAdjust="spacingAndGlyphs"  xml:space="preserve"><tspan>Role Swap</tspan></text>
<text x="3689" y="1863" font-size="28.5" fill="#5b8a42" font-weight="normal" font-style="normal" stroke="#5b8a42" stroke-width="0.6" textLength="126" lengthAdjust="spacingAndGlyphs"  xml:space="preserve"><tspan>Structural</tspan></text>
<text x="3659" y="1896" font-size="28.5" fill="#5b8a42" font-weight="normal" font-style="normal" stroke="#5b8a42" stroke-width="0.6" textLength="191" lengthAdjust="spacingAndGlyphs"  xml:space="preserve"><tspan>Reorganization</tspan></text>
<circle cx="3456" cy="1716" r="94.5" fill="#f5bfc3"/>
<use href="#av" transform="translate(3098,1528) scale(0.08148) translate(-65,-65)"/>
<use href="#av" transform="translate(3098,1732) scale(0.08148) translate(-65,-65)"/>
<use href="#av" transform="translate(3696,1528) scale(0.08148) translate(-65,-65)"/>
<use href="#av" transform="translate(3696,1736) scale(0.08148) translate(-65,-65)"/>
<use href="#av" transform="translate(3386.5,1651.5) scale(0.10185) translate(-65,-65)"/>
</svg>
</body></html>
